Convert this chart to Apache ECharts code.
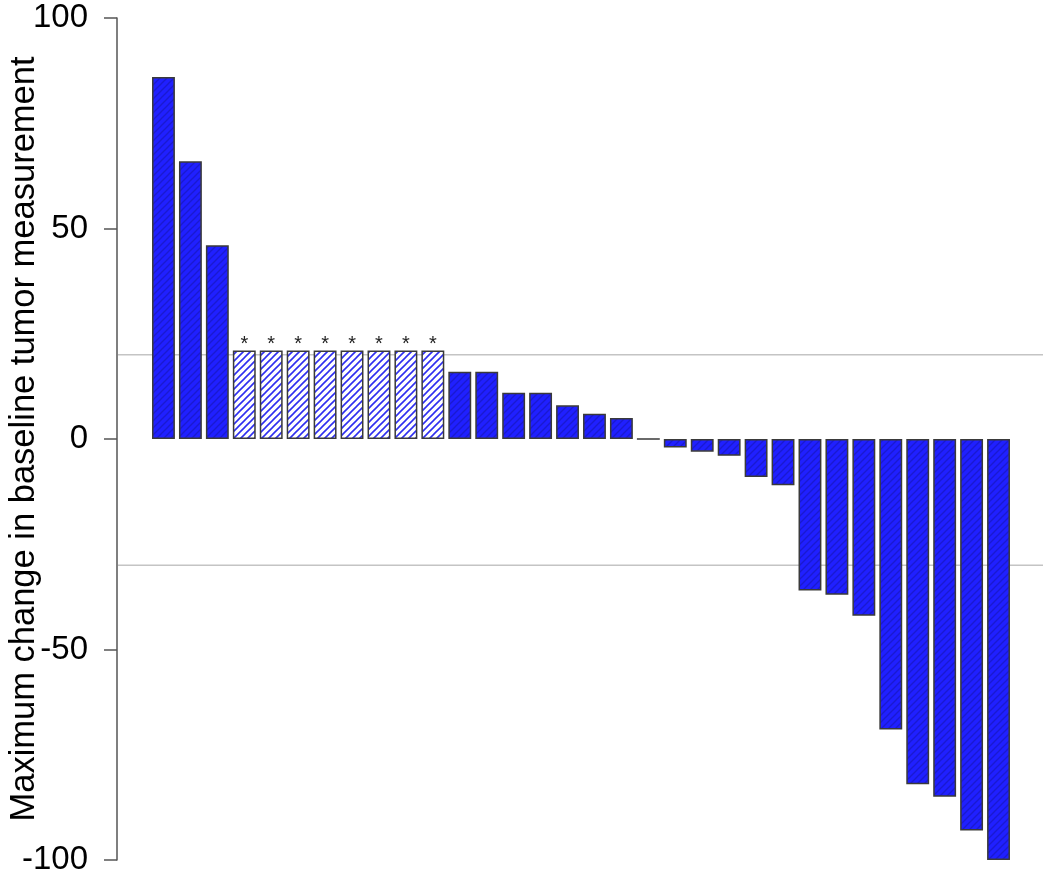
<!DOCTYPE html>
<html lang="en">
<head>
    <meta charset="UTF-8">
    <title>Waterfall</title>
    <script src="https://cdn.jsdelivr.net/npm/echarts@6/dist/echarts.min.js"></script>
</head>
<body style="margin:0;background:#fff">
<div id="main" style="width:1050px;height:878px"></div>
<script>
    // one bar per patient, sorted from largest growth to largest shrinkage
    var patients = [];
    for (var i = 1; i <= 32; i++) { patients.push('P' + i); }
    var values = [86, 66, 46, 21, 21, 21, 21, 21, 21, 21, 21, 16, 16, 11, 11, 8, 6, 5, 0,
                  -2, -3, -4, -9, -11, -36, -37, -42, -69, -82, -85, -93, -100];
    // 1 = hatched bar with asterisk
    var hatched = [0, 0, 0, 1, 1, 1, 1, 1, 1, 1, 1, 0, 0, 0, 0, 0, 0, 0, 0,
                   0, 0, 0, 0, 0, 0, 0, 0, 0, 0, 0, 0, 0];
    var yTicks = [-100, -50, 0, 50, 100];
    var refLines = [20, -30];

    // diagonal stripe tiles
    function stripes(bg, fg, lw) {
        var c = document.createElement('canvas');
        c.width = 7; c.height = 7;
        var ctx = c.getContext('2d');
        ctx.fillStyle = bg;
        ctx.fillRect(0, 0, 7, 7);
        ctx.strokeStyle = fg;
        ctx.lineWidth = lw;
        ctx.beginPath();
        ctx.moveTo(-1, 8); ctx.lineTo(8, -1);
        ctx.moveTo(-1, 1); ctx.lineTo(1, -1);
        ctx.moveTo(6, 8); ctx.lineTo(8, 6);
        ctx.stroke();
        return c;
    }
    var solidFill = { image: stripes('#2020ff', '#1a1ad0', 1.3), repeat: 'repeat' };
    var hatchFill = { image: stripes('#ffffff', '#2f2ff0', 1.6), repeat: 'repeat' };

    var barData = values.map(function (v, k) {
        return {
            value: v,
            itemStyle: { color: hatched[k] ? hatchFill : solidFill },
            label: { show: !!hatched[k] }
        };
    });

    var lineSeries = refLines.map(function (v) {
        return {
            type: 'line',
            xAxisIndex: 1,
            yAxisIndex: 1,
            symbol: 'none',
            silent: true,
            z: 1,
            lineStyle: { color: '#c4c4c4', width: 1.5 },
            data: [[0, v], [1, v]]
        };
    });

    var chart = echarts.init(document.getElementById('main'));
    var option = {
        animation: false,
        grid: [
            { left: 150, top: 18, width: 862, height: 842, outerBoundsMode: 'none', containLabel: false },
            { left: 118, top: 18, width: 925, height: 842, outerBoundsMode: 'none', containLabel: false }
        ],
        xAxis: [
            { type: 'category', data: patients, gridIndex: 0, show: false },
            { type: 'value', min: 0, max: 1, gridIndex: 1, show: false }
        ],
        yAxis: [
            {
                type: 'value',
                gridIndex: 0,
                min: yTicks[0],
                max: yTicks[yTicks.length - 1],
                interval: 50,
                offset: 33,
                name: 'Maximum change in baseline tumor measurement',
                nameLocation: 'middle',
                nameMoveOverlap: false,
                nameGap: 75,
                nameTextStyle: { fontSize: 34.5, color: '#000', fontFamily: 'Liberation Sans' },
                axisLine: { show: true, lineStyle: { color: '#555', width: 1.5 } },
                axisTick: { show: true, length: 13, lineStyle: { color: '#555', width: 1.5 } },
                axisLabel: { fontSize: 33, color: '#000', margin: 29, fontFamily: 'Liberation Sans' },
                splitLine: { show: false }
            },
            { type: 'value', gridIndex: 1, min: -100, max: 100, show: false }
        ],
        series: lineSeries.concat([{
            type: 'bar',
            xAxisIndex: 0,
            yAxisIndex: 0,
            z: 3,
            barWidth: '85%',
            itemStyle: { borderColor: '#3a3a3a', borderWidth: 1.5 },
            label: {
                position: 'top',
                distance: -4,
                formatter: '*',
                fontSize: 20,
                color: '#222',
                fontFamily: 'Liberation Sans'
            },
            data: barData
        }])
    };
    chart.setOption(option);
</script>
</body>
</html>
